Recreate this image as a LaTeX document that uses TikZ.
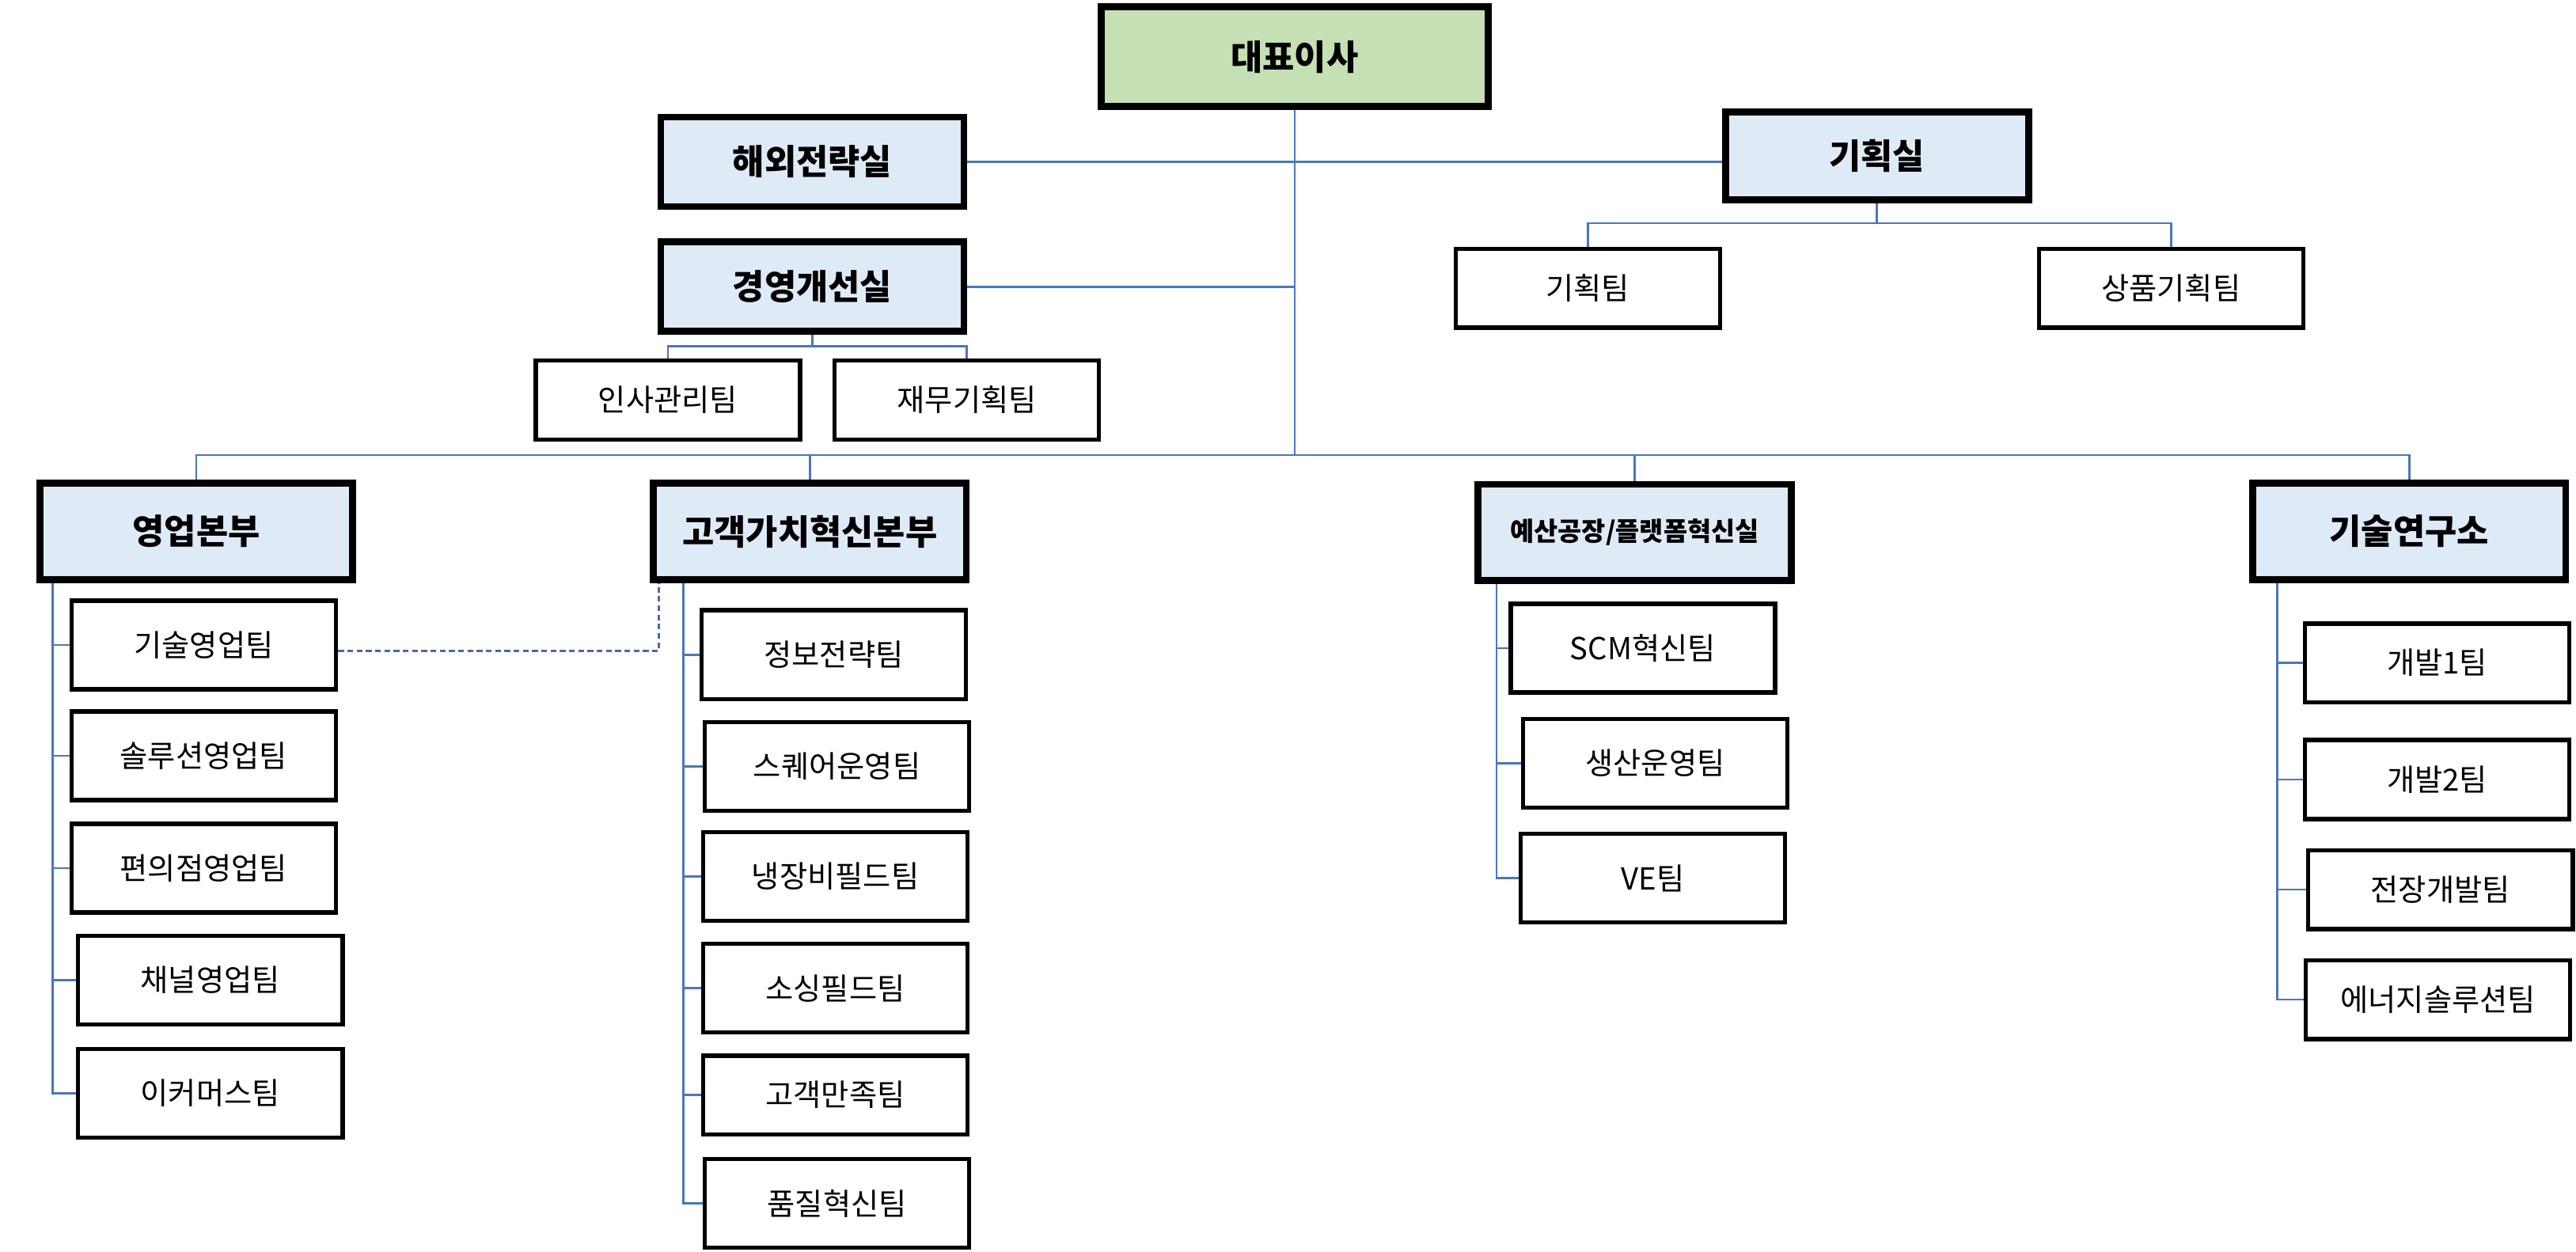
\documentclass[tikz,border=0pt]{standalone}
\usepackage{fontspec}
\setmainfont{Noto Sans CJK KR}
\usepackage{tikz}
\usetikzlibrary{positioning}
\definecolor{ceoFill}{HTML}{C5E0B4}
\definecolor{hdFill}{HTML}{DEEBF7}
\definecolor{linkBlue}{HTML}{4A76BC}
\definecolor{dashBlue}{HTML}{4F6A94}
\tikzset{
  ceobox/.style={draw=black, line width=2.4pt, fill=ceoFill, font=\fontsize{12}{14}\selectfont\bfseries, minimum width=4.71cm, minimum height=1.21cm, inner sep=0pt},
  hdbox/.style={draw=black, line width=2.4pt, fill=hdFill, font=\fontsize{12}{14}\selectfont\bfseries, minimum width=3.81cm, minimum height=1.17cm, inner sep=0pt},
  teambox/.style={draw=black, line width=1.5pt, fill=white, font=\fontsize{10.5}{12}\selectfont, minimum width=3.22cm, minimum height=1.08cm, inner sep=0pt},
  link/.style={draw=linkBlue, line width=0.7pt},
  dotlink/.style={draw=dashBlue, line width=0.8pt, dash pattern=on 2pt off 1.2pt}
}

\begin{document}
\begin{tikzpicture}[x=0.02cm, y=-0.02cm]
  \useasboundingbox (0,0) rectangle (1568,762);
  % top
  \node[ceobox] (ceo) at (788,34.5) {대표이사};
  \node[hdbox, minimum width=3.69cm, minimum height=1.09cm] (overseas) at (494.5,98.5) {해외전략실};
  \node[hdbox, minimum width=3.69cm, minimum height=1.09cm] (mgmt) at (494.5,174.5) {경영개선실};
  \node[hdbox, minimum width=3.69cm, minimum height=1.07cm] (plan) at (1142.5,95) {기획실};
  \node[teambox, minimum height=0.96cm] (planTeam) at (966.5,175.5) {기획팀};
  \node[teambox, minimum height=0.96cm] (prodPlan) at (1321.5,175.5) {상품기획팀};
  \node[teambox, minimum height=0.96cm] (hr) at (406.5,243.5) {인사관리팀};
  \node[teambox, minimum height=0.96cm] (fin) at (588.5,243.5) {재무기획팀};

  % divisions
  \node[hdbox] (sales) at (119.5,323.5) {영업본부};
  \node[hdbox] (cx) at (493,323.5) {고객가치혁신본부};
  \node[hdbox, font=\fontsize{9}{11}\selectfont\bfseries] (factory) at (995,324) {예산공장/플랫폼혁신실};
  \node[hdbox] (lab) at (1466.5,323.5) {기술연구소};

  % sales teams
  \node[teambox] (s1) at (124,392.5) {기술영업팀};
  \node[teambox] (s2) at (124,460) {솔루션영업팀};
  \node[teambox] (s3) at (124,528.5) {편의점영업팀};
  \node[teambox] (s4) at (128,596.5) {채널영업팀};
  \node[teambox] (s5) at (128,665.5) {이커머스팀};

  % cx teams
  \node[teambox] (c1) at (507.5,398.5) {정보전략팀};
  \node[teambox] (c2) at (509.5,466.5) {스퀘어운영팀};
  \node[teambox] (c3) at (508.5,533.5) {냉장비필드팀};
  \node[teambox] (c4) at (508.5,601.5) {소싱필드팀};
  \node[teambox, minimum height=0.96cm] (c5) at (508.5,666.5) {고객만족팀};
  \node[teambox] (c6) at (509.5,732.5) {품질혁신팀};

  % factory teams
  \node[teambox] (f1) at (1000,394.5) {SCM혁신팀};
  \node[teambox] (f2) at (1007.5,464.5) {생산운영팀};
  \node[teambox] (f3) at (1006,534.5) {VE팀};

  % lab teams
  \node[teambox, minimum height=0.96cm] (l1) at (1483.5,403.5) {개발1팀};
  \node[teambox, minimum height=0.96cm] (l2) at (1483.5,474.5) {개발2팀};
  \node[teambox, minimum height=0.96cm] (l3) at (1485.5,541.5) {전장개발팀};
  \node[teambox, minimum height=0.96cm] (l4) at (1484,608.5) {에너지솔루션팀};

  % connectors, top
  \coordinate (bus) at (788,277);
  \draw[link] (ceo.south) -- (bus);
  \draw[link] (overseas.east) -- (overseas.east -| plan.west);
  \draw[link] (mgmt.east) -- (mgmt.east -| ceo.south);
  \coordinate (planBus) at ([yshift=-0.24cm]plan.south);
  \draw[link] (plan.south) -- (planBus);
  \draw[link] (planTeam.north) |- (planBus) -| (prodPlan.north);
  \coordinate (mgmtBus) at ([yshift=-0.14cm]mgmt.south);
  \draw[link] (mgmt.south) -- (mgmtBus);
  \draw[link] (hr.north) |- (mgmtBus) -| (fin.north);

  % connectors, divisions
  \draw[link] (sales.north) |- (bus) -| (lab.north);
  \draw[link] (cx.north) -- (cx.north |- bus);
  \draw[link] (factory.north) -- (factory.north |- bus);

  % spines
  \coordinate (salesSpine) at ([xshift=-1.75cm]sales.south);
  \draw[link] (salesSpine) |- (s5.west);
  \draw[link] (s1.west) -- (s1.west -| salesSpine);
  \draw[link] (s2.west) -- (s2.west -| salesSpine);
  \draw[link] (s3.west) -- (s3.west -| salesSpine);
  \draw[link] (s4.west) -- (s4.west -| salesSpine);

  \coordinate (cxSpine) at ([xshift=-1.54cm]cx.south);
  \draw[link] (cxSpine) |- (c6.west);
  \draw[link] (c1.west) -- (c1.west -| cxSpine);
  \draw[link] (c2.west) -- (c2.west -| cxSpine);
  \draw[link] (c3.west) -- (c3.west -| cxSpine);
  \draw[link] (c4.west) -- (c4.west -| cxSpine);
  \draw[link] (c5.west) -- (c5.west -| cxSpine);

  \coordinate (factorySpine) at ([xshift=-1.68cm]factory.south);
  \draw[link] (factorySpine) |- (f3.west);
  \draw[link] (f1.west) -- (f1.west -| factorySpine);
  \draw[link] (f2.west) -- (f2.west -| factorySpine);

  \coordinate (labSpine) at ([xshift=-1.61cm]lab.south);
  \draw[link] (labSpine) |- (l4.west);
  \draw[link] (l1.west) -- (l1.west -| labSpine);
  \draw[link] (l2.west) -- (l2.west -| labSpine);
  \draw[link] (l3.west) -- (l3.west -| labSpine);

  % dotted tie
  \draw[dotlink] ([yshift=-0.07cm]s1.east) -| ([xshift=-1.84cm]cx.south);
\end{tikzpicture}
\end{document}
